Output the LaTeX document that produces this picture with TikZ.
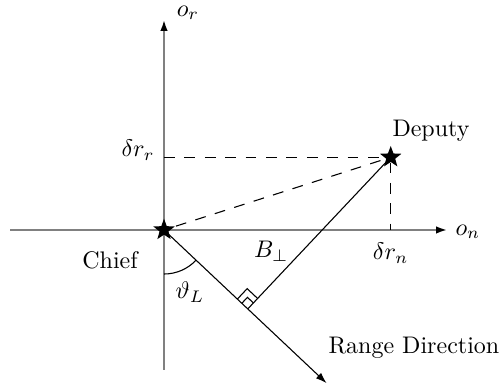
\documentclass[tikz,border=0pt]{standalone}
\usetikzlibrary{arrows.meta,positioning,calc,shapes.geometric,angles,backgrounds}
\tikzset{
  axis/.style={draw=black!50, line width=0.75pt, -{Latex[length=1.6mm,width=1.1mm,color=black]}},
  agent/.style={star, star points=5, star point ratio=2.4, fill=black, minimum size=3.3mm, inner sep=0pt},
  proj/.style={dash pattern=on 4.5pt off 4pt, line width=0.45pt},
  ray/.style={-{Latex[length=1.6mm,width=1.1mm]}, line width=0.45pt},
  anglemark/.style={draw, line width=0.45pt}
}
\begin{document}
\begin{tikzpicture}
  \useasboundingbox (-2.402,-2.328) rectangle (4.935,3.368);

  % Chief at the origin, deputy offset.
  \node[agent] (chief) at (0,0) {};
  \node[agent] (deputy) at (3.32,1.065) {};

  % Axis ends, range direction and projections.
  \coordinate (nleft) at (-2.255,0);
  \coordinate (nright) at (4.144,0);
  \coordinate (rbot) at (0,-2.05);
  \coordinate (rtop) at (0,3.075);
  \coordinate (rangeend) at (-43.3:3.27);
  \coordinate (foot) at ($(chief)!(deputy)!(rangeend)$);
  \coordinate (dn) at (deputy |- chief);
  \coordinate (dr) at (chief |- deputy);

  \begin{scope}[on background layer]
    \draw[axis] (rbot) -- (rtop);
    \draw[axis] (nleft) -- (nright);
    \draw[proj] (dr) -- (deputy);
    \draw[proj] (deputy) -- (dn);
    \draw[proj] (chief) -- (deputy);
    \draw[ray] (chief.center) -- (rangeend);
    \draw[line width=0.45pt] (deputy.center) -- (foot);
    \pic[anglemark, angle radius=6.45mm] {angle=rbot--chief--rangeend};
    \pic[anglemark, angle radius=1.2mm] {right angle=chief--foot--deputy};
    \pic[anglemark, angle radius=2.1mm] {right angle=chief--foot--deputy};
  \end{scope}

  % Labels.
  \node (onlbl) at (4.45,-0.03) {$o_n$};
  \node (orlbl) at (0.35,3.18) {$o_r$};
  \node (drrlbl) at (-0.38,1.17) {$\delta r_r$};
  \node (drnlbl) at (3.32,-0.34) {$\delta r_n$};
  \node (deplbl) at (3.91,1.46) {Deputy};
  \node (chieflbl) at (-0.79,-0.44) {Chief};
  \node (blbl) at (1.57,-0.31) {$B_\perp$};
  \node (thlbl) at (0.38,-0.91) {$\vartheta_L$};
  \node (rangelbl) at (3.66,-1.73) {Range Direction};
\end{tikzpicture}
\end{document}
